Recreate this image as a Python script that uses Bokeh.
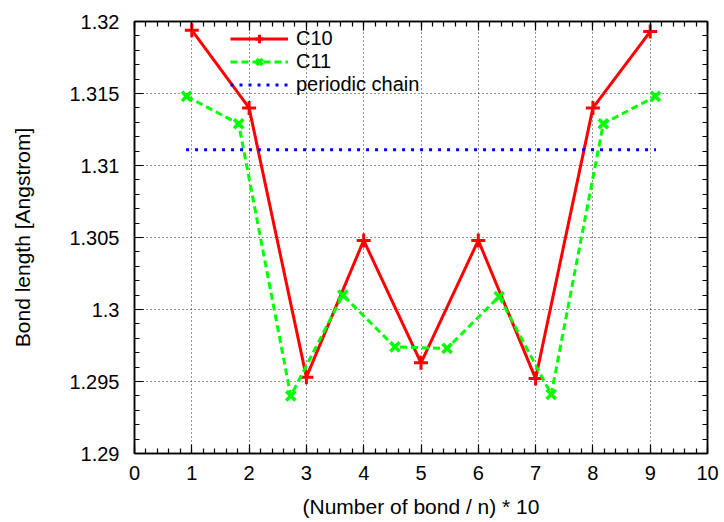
from bokeh.plotting import figure
from bokeh.models import Range1d, FixedTicker, LinearAxis, Legend, LegendItem, CustomJSTickFormatter
from bokeh.embed import file_html
from bokeh.resources import INLINE

# ---- data ----
c10_x = [1, 2, 3, 4, 5, 6, 7, 8, 9]
c10_y = [1.3194, 1.3140, 1.2953, 1.3048, 1.2963, 1.3048, 1.2952, 1.3140, 1.3193]
c11_x = [0.909, 1.818, 2.727, 3.636, 4.545, 5.455, 6.364, 7.273, 8.182, 9.091]
c11_y = [1.3148, 1.3129, 1.2940, 1.3010, 1.2974, 1.2973, 1.3009, 1.2941, 1.3129, 1.3148]
periodic_x = [0.9, 9.1]
periodic_y = [1.3111, 1.3111]

xticks = [0, 1, 2, 3, 4, 5, 6, 7, 8, 9, 10]
yticks = [1.29, 1.295, 1.3, 1.305, 1.31, 1.315, 1.32]
ytick_labels = ["1.29", "1.295", "1.3", "1.305", "1.31", "1.315", "1.32"]
x_minor = [i * 0.2 for i in range(51)]
y_minor = [1.29 + i * 0.001 for i in range(31)]

FONT = "Liberation Sans"
TICK_FS = "20px"
LABEL_FS = "21px"
LEGEND_FS = "20px"

p = figure(width=720, height=520, x_range=Range1d(0, 10), y_range=Range1d(1.29, 1.32),
           output_backend="svg", toolbar_location=None,
           min_border_left=134, min_border_top=21, min_border_right=13, min_border_bottom=64)
p.outline_line_color = "black"
p.outline_line_width = 1.5

xticker = FixedTicker(ticks=xticks, minor_ticks=x_minor)
yticker = FixedTicker(ticks=yticks, minor_ticks=y_minor)

overrides = {}
for v, lab in zip(yticks, ytick_labels):
    overrides[v] = lab
    overrides[str(v)] = lab


def style_axis(ax):
    ax.axis_line_color = "black"
    ax.axis_line_width = 1.5
    ax.major_tick_in = 9
    ax.major_tick_out = 0
    ax.minor_tick_in = 5
    ax.minor_tick_out = 0
    ax.major_tick_line_color = "black"
    ax.minor_tick_line_color = "black"
    ax.major_tick_line_width = 1.2
    ax.minor_tick_line_width = 1.2
    ax.major_label_text_font = FONT
    ax.major_label_text_font_size = TICK_FS
    ax.major_label_text_color = "black"
    ax.axis_label_text_font = FONT
    ax.axis_label_text_font_style = "normal"
    ax.axis_label_text_font_size = LABEL_FS
    ax.axis_label_text_color = "black"


xa = p.xaxis[0]
xa.ticker = xticker
style_axis(xa)
xa.axis_label = "(Number of bond / n) * 10"
xa.major_label_standoff = 12
xa.axis_label_standoff = 12

ya = p.yaxis[0]
ya.ticker = yticker
style_axis(ya)
ya.major_label_overrides = overrides
ya.axis_label = "Bond length [Angstrom]"
ya.major_label_standoff = 15
ya.axis_label_standoff = 32

# mirror axes: ticks only
blank = CustomJSTickFormatter(code="return ''")
top = LinearAxis(ticker=xticker, formatter=blank)
style_axis(top)
top.major_label_standoff = 0
p.add_layout(top, "above")
right = LinearAxis(ticker=yticker, formatter=blank)
style_axis(right)
right.major_label_standoff = 0
p.add_layout(right, "right")

p.xgrid.ticker = xticker
p.ygrid.ticker = yticker
for g in (p.xgrid, p.ygrid):
    g.grid_line_color = "black"
    g.grid_line_alpha = 0.85
    g.grid_line_width = 1
    g.grid_line_dash = "1 3"

# ---- series ----
red = "#ff0000"
green = "#00ff00"
blue = "#0000ff"

r10 = p.line(c10_x, c10_y, line_color=red, line_width=3)
m10 = p.scatter(c10_x, c10_y, marker="cross", size=14, line_color=red, line_width=3)
r11 = p.line(c11_x, c11_y, line_color=green, line_width=3, line_dash="7 4")
m11 = p.scatter(c11_x, c11_y, marker="x", size=13, line_color=green, line_width=3.5)
rp = p.line(periodic_x, periodic_y, line_color=blue, line_width=3, line_dash="3 6")

legend = Legend(items=[
    LegendItem(label="C10", renderers=[r10, m10]),
    LegendItem(label="C11", renderers=[r11, m11]),
    LegendItem(label="periodic chain", renderers=[rp]),
], location=(96, 357))
legend.padding = 2
legend.margin = 0
legend.spacing = 0
legend.label_height = 21
legend.glyph_height = 21
legend.glyph_width = 58
legend.label_standoff = 8
legend.label_text_font = FONT
legend.label_text_font_size = LEGEND_FS
legend.label_text_color = "black"
legend.border_line_color = None
legend.background_fill_alpha = 0.0
p.add_layout(legend)

open("out.html", "w").write(file_html(p, INLINE))
